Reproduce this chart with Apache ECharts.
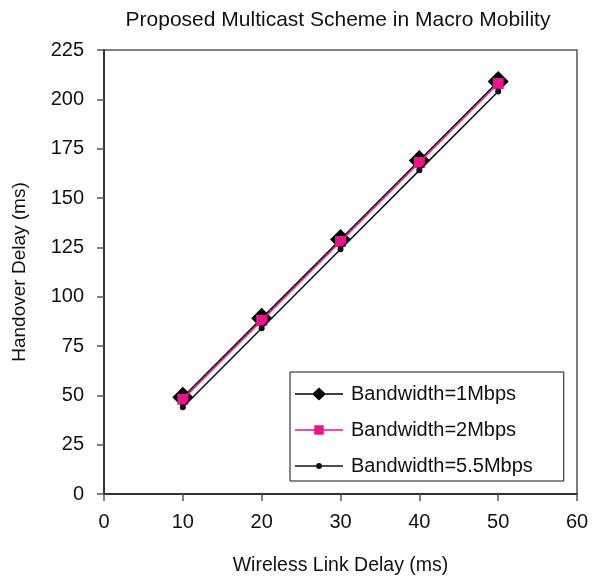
<!DOCTYPE html>
<html>
<head>
<meta charset="utf-8">
<script src="https://cdn.jsdelivr.net/npm/echarts@6/dist/echarts.min.js"></script>
<style>html,body{margin:0;padding:0;background:#fff}#c{width:602px;height:581px}</style>
</head>
<body>
<div id="c"></div>
<script>
const xValues = [10, 20, 30, 40, 50];
const bw1 = [49, 89, 129, 169, 209];
const bw2 = [48, 88, 128, 168, 208];
const bw55 = [44, 84, 124, 164, 204];
const seriesNames = ['Bandwidth=1Mbps', 'Bandwidth=2Mbps', 'Bandwidth=5.5Mbps'];

const pair = arr => xValues.map((x, i) => [x, arr[i]]);
const FONT = 'Liberation Sans, Arial, sans-serif';
// legend icons: line + marker drawn in a 48x14 box
const corners = 'M0 0 L0.01 0 L0 0.01 Z M48 14 L47.99 14 L48 13.99 Z ';
const lineRect = 'M0 6.25 L48 6.25 L48 7.75 L0 7.75 Z ';
const icons = [
  'path://' + corners + lineRect + 'M24 0.5 L31 7 L24 13.5 L17 7 Z',
  'path://' + corners + lineRect + 'M19.25 2.25 L28.75 2.25 L28.75 11.75 L19.25 11.75 Z',
  'path://' + corners + lineRect + 'M27 7 A3 3 0 1 1 21 7 A3 3 0 1 1 27 7 Z'
];

const chart = echarts.init(document.getElementById('c'), null, {renderer: 'canvas'});
chart.setOption({
  animation: false,
  backgroundColor: '#fff',
  title: {
    text: 'Proposed Multicast Scheme in Macro Mobility',
    left: 333, top: 5, textAlign: 'center',
    textStyle: {fontFamily: FONT, fontSize: 21, fontWeight: 'normal', color: '#111'}
  },
  grid: {left: 104, right: 25, top: 50, bottom: 87, show: true, borderColor: '#555', borderWidth: 1.5, containLabel: false},
  legend: {
    orient: 'vertical', left: 290, top: 372,
    data: seriesNames.map((n, i) => ({name: n, icon: icons[i]})),
    symbolKeepAspect: false,
    itemWidth: 48, itemHeight: 14, itemGap: 16,
    padding: [12, 31, 5, 5],
    borderColor: '#111', borderWidth: 1, backgroundColor: '#fff',
    textStyle: {fontFamily: FONT, fontSize: 20, color: '#111', padding: [0, 0, 0, 3]}
  },
  xAxis: {
    type: 'value', min: 0, max: 60, interval: 10,
    name: 'Wireless Link Delay (ms)', nameLocation: 'middle', nameGap: 62,
    nameTextStyle: {fontFamily: FONT, fontSize: 19.5, color: '#111'},
    axisLine: {show: true, onZero: false, lineStyle: {color: '#333', width: 2}},
    axisTick: {show: true, inside: false, length: 7, lineStyle: {color: '#555', width: 1.5}},
    axisLabel: {fontFamily: FONT, fontSize: 20, color: '#111', margin: 18},
    splitLine: {show: false}
  },
  yAxis: {
    type: 'value', min: 0, max: 225, interval: 25,
    name: 'Handover Delay (ms)', nameLocation: 'middle', nameGap: 75,
    nameTextStyle: {fontFamily: FONT, fontSize: 19, color: '#111'},
    axisLine: {show: true, onZero: false, lineStyle: {color: '#333', width: 2}},
    axisTick: {show: true, inside: false, length: 7, lineStyle: {color: '#555', width: 1.5}},
    axisLabel: {fontFamily: FONT, fontSize: 20, color: '#111', margin: 20},
    splitLine: {show: false}
  },
  series: [
    {name: seriesNames[0], type: 'line', data: pair(bw1), symbol: 'diamond', symbolSize: 21,
     itemStyle: {color: '#000'}, lineStyle: {color: '#000', width: 1.5}, z: 2},
    {name: seriesNames[1], type: 'line', data: pair(bw2), symbol: 'rect', symbolSize: 11,
     itemStyle: {color: '#e8158c'}, lineStyle: {color: '#e8158c', width: 1.5}, z: 3},
    {name: seriesNames[2], type: 'line', data: pair(bw55), symbol: 'circle', symbolSize: 6,
     itemStyle: {color: '#111'}, lineStyle: {color: '#111', width: 1.5}, z: 4}
  ]
});
</script>
</body>
</html>
